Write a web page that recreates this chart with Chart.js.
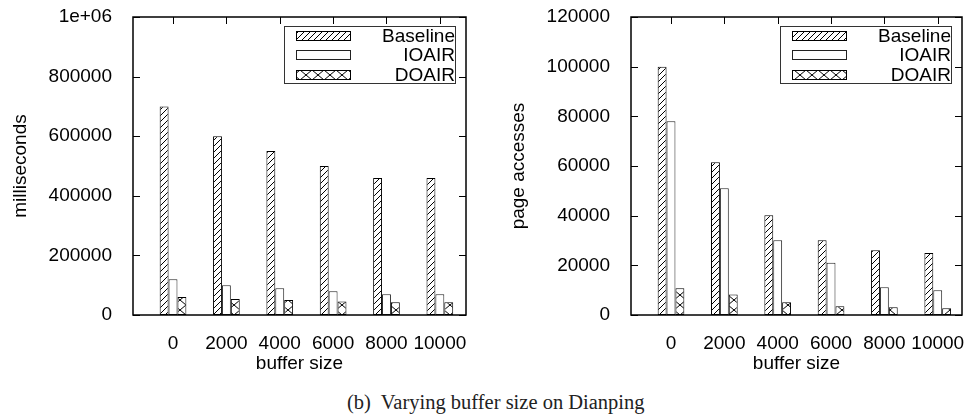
<!DOCTYPE html>
<html>
<head>
<meta charset="utf-8">
<script src="https://cdn.jsdelivr.net/npm/chart.js@4.4.1/dist/chart.umd.min.js"></script>
<style>
  html, body { margin: 0; padding: 0; background: #fff; }
  #wrap { position: relative; width: 964px; height: 416px; overflow: hidden; }
  #wrap canvas { position: absolute; top: 0; }
  #caption {
    position: absolute; left: 347px; top: 392px; white-space: nowrap;
    font: 20.5px 'Liberation Serif', 'Times New Roman', serif; line-height: 20px; color: #222;
  }
</style>
</head>
<body>
<div id="wrap">
  <canvas id="timeChart" width="482" height="380" style="left:0"></canvas>
  <canvas id="pageChart" width="482" height="380" style="left:482px"></canvas>
  <div id="caption">(b)&nbsp; Varying buffer size on Dianping</div>
</div>
<script>
// buffer sizes on the x axis
var bufferSizes = [0, 2000, 4000, 6000, 8000, 10000];
var seriesNames = ['Baseline', 'IOAIR', 'DOAIR'];

// running time (ms)
var timeBaseline = [700000, 600000, 550000, 500000, 460000, 460000];
var timeIOAIR    = [120000, 100000, 90000, 80000, 70000, 70000];
var timeDOAIR    = [60000, 54000, 50000, 45000, 43000, 43000];
var timeTicks    = [0, 200000, 400000, 600000, 800000, 1000000];

// page accesses
var pageBaseline = [100000, 61500, 40200, 30100, 26100, 25000];
var pageIOAIR    = [78000, 51000, 30100, 21000, 11200, 10000];
var pageDOAIR    = [10800, 8300, 5100, 3500, 3100, 2700];
var pageTicks    = [0, 20000, 40000, 60000, 80000, 100000, 120000];

var FONT = "'Liberation Sans', Arial, Helvetica, sans-serif";
Chart.defaults.font.family = FONT;
Chart.defaults.font.size = 19;
Chart.defaults.color = '#000';

// hatch fills, gnuplot style
function makePattern(w, h, draw) {
  var c = document.createElement('canvas');
  c.width = w; c.height = h;
  var g = c.getContext('2d');
  g.fillStyle = '#fff';
  g.fillRect(0, 0, w, h);
  g.strokeStyle = '#000';
  g.lineWidth = 1;
  g.beginPath();
  draw(g, w, h);
  g.stroke();
  return g.createPattern(c, 'repeat');
}
var hatchFill = makePattern(6, 6, function (g, w, h) {
  g.moveTo(-1, h + 1); g.lineTo(w + 1, -1);
  g.moveTo(-1, 1); g.lineTo(1, -1);
  g.moveTo(w - 1, h + 1); g.lineTo(w + 1, h - 1);
});
var crossFill = makePattern(12, 10, function (g, w, h) {
  g.moveTo(0, 0); g.lineTo(w, h);
  g.moveTo(0, h); g.lineTo(w, 0);
});
var fills = [hatchFill, '#fff', crossFill];
var edges = ['#000', '#222', '#000'];

// border box with inward ticks
var framePlugin = {
  id: 'frame',
  afterDatasetsDraw: function (chart) {
    var ctx = chart.ctx, a = chart.chartArea, x = chart.scales.x, y = chart.scales.y;
    ctx.save();
    ctx.strokeStyle = '#000';
    ctx.lineWidth = 1;
    ctx.beginPath();
    y.ticks.forEach(function (t) {
      var py = Math.round(y.getPixelForValue(t.value)) + 0.5;
      ctx.moveTo(a.left, py); ctx.lineTo(a.left + 7, py);
      ctx.moveTo(a.right, py); ctx.lineTo(a.right - 7, py);
    });
    x.ticks.forEach(function (t) {
      var px = Math.round(x.getPixelForValue(t.value)) + 0.5;
      ctx.moveTo(px, a.top); ctx.lineTo(px, a.top + 7);
    });
    ctx.stroke();
    ctx.lineWidth = 1.5;
    ctx.strokeRect(a.left, a.top, a.right - a.left, a.bottom - a.top);
    ctx.restore();
  }
};

// key box in the top right corner
var keyPlugin = {
  id: 'key',
  afterDraw: function (chart) {
    var ctx = chart.ctx, a = chart.chartArea;
    var w = 172, h = 58, right = a.right - 10, left = right - w, top = a.top + 9;
    ctx.save();
    ctx.strokeStyle = '#333';
    ctx.lineWidth = 1;
    ctx.strokeRect(left + 0.5, top + 0.5, w - 1, h - 1);
    ctx.font = '19px ' + FONT;
    ctx.textAlign = 'right';
    ctx.textBaseline = 'middle';
    chart.data.datasets.forEach(function (ds, i) {
      var cy = Math.round(top + 10 + i * 19.3);
      ctx.fillStyle = ds.backgroundColor;
      ctx.fillRect(left + 12, cy - 5, 55, 10);
      ctx.strokeStyle = ds.borderColor;
      ctx.strokeRect(left + 12.5, cy - 4.5, 54, 9);
      ctx.fillStyle = '#000';
      ctx.fillText(ds.label, right - 1, cy + 0.5);
    });
    ctx.restore();
  }
};

function series(values, i) {
  return {
    label: seriesNames[i],
    data: values.map(function (v, k) { return { x: k, y: v }; }),
    backgroundColor: fills[i],
    borderColor: edges[i],
    borderWidth: 1,
    borderSkipped: false,
    categoryPercentage: 0.5,
    barPercentage: 1
  };
}

function drawPanel(id, cfg) {
  new Chart(document.getElementById(id), {
    type: 'bar',
    data: { datasets: cfg.values.map(series) },
    options: {
      responsive: false,
      animation: false,
      layout: { padding: { top: 17, right: cfg.padRight, left: 0, bottom: 0 } },
      plugins: { legend: { display: false }, tooltip: { enabled: false } },
      scales: {
        x: {
          type: 'linear', offset: false, min: -0.75, max: cfg.xMax,
          grid: { display: false, offset: false }, border: { display: false },
          afterBuildTicks: function (s) { s.ticks = bufferSizes.map(function (_, k) { return { value: k }; }); },
          afterFit: function (s) { s.height = 65; s.paddingLeft = 0; s.paddingRight = 0; },
          ticks: { padding: 9, maxRotation: 0, autoSkip: false,
                   callback: function (v) { return String(bufferSizes[v]); } },
          title: { display: true, text: 'buffer size', padding: { top: 0, bottom: 5 } }
        },
        y: {
          min: 0, max: cfg.yTicks[cfg.yTicks.length - 1],
          grid: { display: false }, border: { display: false },
          afterBuildTicks: function (s) { s.ticks = cfg.yTicks.map(function (v) { return { value: v }; }); },
          afterFit: function (s) { s.width = cfg.axisWidth; s.paddingTop = 0; s.paddingBottom = 0; },
          ticks: { padding: 13, callback: function (v) { return v >= 1e6 ? '1e+06' : String(v); } },
          title: { display: true, text: cfg.yTitle, padding: { top: cfg.titlePad, bottom: 0 } }
        }
      }
    },
    plugins: [framePlugin, keyPlugin]
  });
}

drawPanel('timeChart', {
  values: [timeBaseline, timeIOAIR, timeDOAIR],
  yTicks: timeTicks, yTitle: 'milliseconds',
  axisWidth: 133, titlePad: 9, padRight: 16, xMax: 5.49
});
drawPanel('pageChart', {
  values: [pageBaseline, pageIOAIR, pageDOAIR],
  yTicks: pageTicks, yTitle: 'page accesses',
  axisWidth: 149, titlePad: 25, padRight: 2, xMax: 5.455
});
</script>
</body>
</html>
